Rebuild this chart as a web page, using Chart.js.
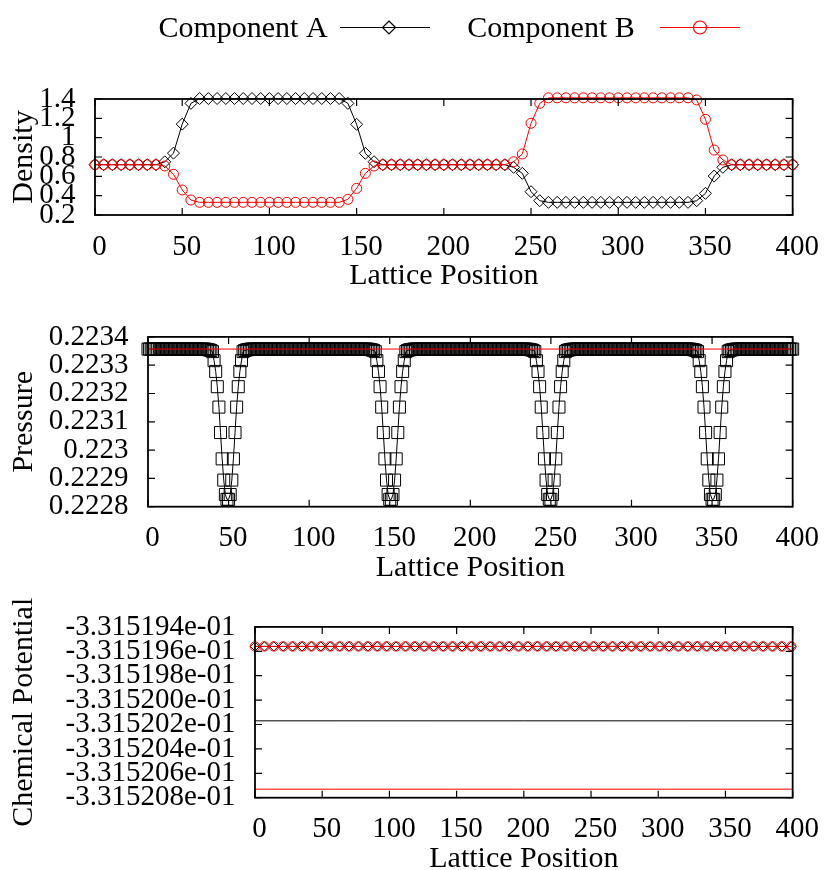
<!DOCTYPE html>
<html>
<head>
<meta charset="utf-8">
<title>Lattice profiles</title>
<script src="https://cdn.jsdelivr.net/npm/chart.js@4.4.1/dist/chart.umd.min.js"></script>
<style>
  html, body { margin: 0; padding: 0; background: #fff; overflow: hidden; }
  #wrap { position: relative; width: 829px; height: 870px; }
  canvas { position: absolute; left: 0; }
  #density { top: 0; }
  #pressure { top: 300px; }
  #potential { top: 590px; }
</style>
</head>
<body>
<div id="wrap">
  <canvas id="density" width="829" height="300"></canvas>
  <canvas id="pressure" width="829" height="290"></canvas>
  <canvas id="potential" width="829" height="300"></canvas>
</div>
<script>
'use strict';

const latticeTicks = [0, 50, 100, 150, 200, 250, 300, 350, 400];

// density, every 5th site
const densityX = Array.from({ length: 81 }, (_, i) => i * 5);
const densityA = [
  0.72, 0.72, 0.72, 0.72, 0.72, 0.72, 0.72, 0.72, 0.75, 0.84,
  1.14, 1.355, 1.405, 1.405, 1.405, 1.405, 1.405, 1.405, 1.405, 1.405,
  1.405, 1.405, 1.405, 1.405, 1.405, 1.405, 1.405, 1.405, 1.405, 1.355,
  1.138, 0.838, 0.751, 0.72, 0.72, 0.72, 0.72, 0.72, 0.72, 0.72,
  0.72, 0.72, 0.72, 0.72, 0.72, 0.72, 0.72, 0.72, 0.693, 0.631,
  0.441, 0.348, 0.331, 0.331, 0.331, 0.331, 0.331, 0.331, 0.331, 0.331,
  0.331, 0.331, 0.331, 0.331, 0.331, 0.331, 0.331, 0.331, 0.331, 0.348,
  0.424, 0.603, 0.693, 0.72, 0.72, 0.72, 0.72, 0.72, 0.72, 0.72,
  0.72
];
const densityB = [
  0.72, 0.72, 0.72, 0.72, 0.72, 0.72, 0.72, 0.72, 0.707, 0.621,
  0.459, 0.355, 0.331, 0.331, 0.331, 0.331, 0.331, 0.331, 0.331, 0.331,
  0.331, 0.331, 0.331, 0.331, 0.331, 0.331, 0.331, 0.331, 0.331, 0.362,
  0.476, 0.631, 0.707, 0.72, 0.72, 0.72, 0.72, 0.72, 0.72, 0.72,
  0.72, 0.72, 0.72, 0.72, 0.72, 0.72, 0.72, 0.72, 0.751, 0.831,
  1.149, 1.355, 1.412, 1.412, 1.412, 1.412, 1.412, 1.412, 1.412, 1.412,
  1.412, 1.412, 1.412, 1.412, 1.412, 1.412, 1.412, 1.412, 1.412, 1.39,
  1.19, 0.872, 0.769, 0.72, 0.72, 0.72, 0.72, 0.72, 0.72, 0.72,
  0.72
];
const densityTicks = [0.2, 0.4, 0.6, 0.8, 1, 1.2, 1.4];

// pressure at every site
const pressureX = Array.from({ length: 401 }, (_, i) => i);
const pressure = [
  0.223357, 0.223357, 0.223357, 0.223357, 0.223357, 0.223357, 0.223357, 0.223357, 0.223357, 0.223357,
  0.223357, 0.223357, 0.223357, 0.223357, 0.223357, 0.223357, 0.223357, 0.223357, 0.223357, 0.223357,
  0.223357, 0.223357, 0.223357, 0.223357, 0.223357, 0.223357, 0.223357, 0.223357, 0.223357, 0.223357,
  0.223357, 0.223357, 0.223357, 0.223357, 0.223357, 0.223357, 0.223356, 0.223355, 0.223354, 0.223352,
  0.223348, 0.223316, 0.223278, 0.223224, 0.223152, 0.223062, 0.222969, 0.222894, 0.222843, 0.222826,
  0.222826, 0.222843, 0.222894, 0.222969, 0.223062, 0.223152, 0.223224, 0.223278, 0.223316, 0.223348,
  0.223352, 0.223354, 0.223355, 0.223356, 0.223357, 0.223357, 0.223357, 0.223357, 0.223357, 0.223357,
  0.223357, 0.223357, 0.223357, 0.223357, 0.223357, 0.223357, 0.223357, 0.223357, 0.223357, 0.223357,
  0.223357, 0.223357, 0.223357, 0.223357, 0.223357, 0.223357, 0.223357, 0.223357, 0.223357, 0.223357,
  0.223357, 0.223357, 0.223357, 0.223357, 0.223357, 0.223357, 0.223357, 0.223357, 0.223357, 0.223357,
  0.223357, 0.223357, 0.223357, 0.223357, 0.223357, 0.223357, 0.223357, 0.223357, 0.223357, 0.223357,
  0.223357, 0.223357, 0.223357, 0.223357, 0.223357, 0.223357, 0.223357, 0.223357, 0.223357, 0.223357,
  0.223357, 0.223357, 0.223357, 0.223357, 0.223357, 0.223357, 0.223357, 0.223357, 0.223357, 0.223357,
  0.223357, 0.223357, 0.223357, 0.223357, 0.223357, 0.223357, 0.223357, 0.223356, 0.223355, 0.223354,
  0.223352, 0.223348, 0.223316, 0.223278, 0.223224, 0.223152, 0.223062, 0.222969, 0.222894, 0.222843,
  0.222826, 0.222826, 0.222843, 0.222894, 0.222969, 0.223062, 0.223152, 0.223224, 0.223278, 0.223316,
  0.223348, 0.223352, 0.223354, 0.223355, 0.223356, 0.223357, 0.223357, 0.223357, 0.223357, 0.223357,
  0.223357, 0.223357, 0.223357, 0.223357, 0.223357, 0.223357, 0.223357, 0.223357, 0.223357, 0.223357,
  0.223357, 0.223357, 0.223357, 0.223357, 0.223357, 0.223357, 0.223357, 0.223357, 0.223357, 0.223357,
  0.223357, 0.223357, 0.223357, 0.223357, 0.223357, 0.223357, 0.223357, 0.223357, 0.223357, 0.223357,
  0.223357, 0.223357, 0.223357, 0.223357, 0.223357, 0.223357, 0.223357, 0.223357, 0.223357, 0.223357,
  0.223357, 0.223357, 0.223357, 0.223357, 0.223357, 0.223357, 0.223357, 0.223357, 0.223357, 0.223357,
  0.223357, 0.223357, 0.223357, 0.223357, 0.223357, 0.223357, 0.223357, 0.223357, 0.223357, 0.223357,
  0.223357, 0.223357, 0.223357, 0.223357, 0.223357, 0.223357, 0.223356, 0.223355, 0.223354, 0.223352,
  0.223348, 0.223316, 0.223278, 0.223224, 0.223152, 0.223062, 0.222969, 0.222894, 0.222843, 0.222826,
  0.222826, 0.222843, 0.222894, 0.222969, 0.223062, 0.223152, 0.223224, 0.223278, 0.223316, 0.223348,
  0.223352, 0.223354, 0.223355, 0.223356, 0.223357, 0.223357, 0.223357, 0.223357, 0.223357, 0.223357,
  0.223357, 0.223357, 0.223357, 0.223357, 0.223357, 0.223357, 0.223357, 0.223357, 0.223357, 0.223357,
  0.223357, 0.223357, 0.223357, 0.223357, 0.223357, 0.223357, 0.223357, 0.223357, 0.223357, 0.223357,
  0.223357, 0.223357, 0.223357, 0.223357, 0.223357, 0.223357, 0.223357, 0.223357, 0.223357, 0.223357,
  0.223357, 0.223357, 0.223357, 0.223357, 0.223357, 0.223357, 0.223357, 0.223357, 0.223357, 0.223357,
  0.223357, 0.223357, 0.223357, 0.223357, 0.223357, 0.223357, 0.223357, 0.223357, 0.223357, 0.223357,
  0.223357, 0.223357, 0.223357, 0.223357, 0.223357, 0.223357, 0.223357, 0.223357, 0.223357, 0.223357,
  0.223357, 0.223357, 0.223357, 0.223357, 0.223357, 0.223357, 0.223357, 0.223356, 0.223355, 0.223354,
  0.223352, 0.223348, 0.223316, 0.223278, 0.223224, 0.223152, 0.223062, 0.222969, 0.222894, 0.222843,
  0.222826, 0.222826, 0.222843, 0.222894, 0.222969, 0.223062, 0.223152, 0.223224, 0.223278, 0.223316,
  0.223348, 0.223352, 0.223354, 0.223355, 0.223356, 0.223357, 0.223357, 0.223357, 0.223357, 0.223357,
  0.223357, 0.223357, 0.223357, 0.223357, 0.223357, 0.223357, 0.223357, 0.223357, 0.223357, 0.223357,
  0.223357, 0.223357, 0.223357, 0.223357, 0.223357, 0.223357, 0.223357, 0.223357, 0.223357, 0.223357,
  0.223357, 0.223357, 0.223357, 0.223357, 0.223357, 0.223357, 0.223357, 0.223357, 0.223357, 0.223357,
  0.223357
];
const pressureBulk = 0.223357;
const pressureTicks = [0.2228, 0.2229, 0.223, 0.2231, 0.2232, 0.2233, 0.2234];

// chemical potential, every 7th site
const potentialX = Array.from({ length: 58 }, (_, i) => i * 7);
const potentialA = [
  -3.3151956e-1, -3.3151956e-1, -3.3151956e-1, -3.3151956e-1, -3.3151956e-1, -3.3151956e-1, -3.3151956e-1, -3.3151956e-1, -3.3151956e-1, -3.3151956e-1,
  -3.3151956e-1, -3.3151956e-1, -3.3151956e-1, -3.3151956e-1, -3.3151956e-1, -3.3151956e-1, -3.3151956e-1, -3.3151956e-1, -3.3151956e-1, -3.3151956e-1,
  -3.3151956e-1, -3.3151956e-1, -3.3151956e-1, -3.3151956e-1, -3.3151956e-1, -3.3151956e-1, -3.3151956e-1, -3.3151956e-1, -3.3151956e-1, -3.3151956e-1,
  -3.3151956e-1, -3.3151956e-1, -3.3151956e-1, -3.3151956e-1, -3.3151956e-1, -3.3151956e-1, -3.3151956e-1, -3.3151956e-1, -3.3151956e-1, -3.3151956e-1,
  -3.3151956e-1, -3.3151956e-1, -3.3151956e-1, -3.3151956e-1, -3.3151956e-1, -3.3151956e-1, -3.3151956e-1, -3.3151956e-1, -3.3151956e-1, -3.3151956e-1,
  -3.3151956e-1, -3.3151956e-1, -3.3151956e-1, -3.3151956e-1, -3.3151956e-1, -3.3151956e-1, -3.3151956e-1, -3.3151956e-1
];
const potentialB = [
  -3.3151956e-1, -3.3151956e-1, -3.3151956e-1, -3.3151956e-1, -3.3151956e-1, -3.3151956e-1, -3.3151956e-1, -3.3151956e-1, -3.3151956e-1, -3.3151956e-1,
  -3.3151956e-1, -3.3151956e-1, -3.3151956e-1, -3.3151956e-1, -3.3151956e-1, -3.3151956e-1, -3.3151956e-1, -3.3151956e-1, -3.3151956e-1, -3.3151956e-1,
  -3.3151956e-1, -3.3151956e-1, -3.3151956e-1, -3.3151956e-1, -3.3151956e-1, -3.3151956e-1, -3.3151956e-1, -3.3151956e-1, -3.3151956e-1, -3.3151956e-1,
  -3.3151956e-1, -3.3151956e-1, -3.3151956e-1, -3.3151956e-1, -3.3151956e-1, -3.3151956e-1, -3.3151956e-1, -3.3151956e-1, -3.3151956e-1, -3.3151956e-1,
  -3.3151956e-1, -3.3151956e-1, -3.3151956e-1, -3.3151956e-1, -3.3151956e-1, -3.3151956e-1, -3.3151956e-1, -3.3151956e-1, -3.3151956e-1, -3.3151956e-1,
  -3.3151956e-1, -3.3151956e-1, -3.3151956e-1, -3.3151956e-1, -3.3151956e-1, -3.3151956e-1, -3.3151956e-1, -3.3151956e-1
];
const potentialBulkA = -3.3152017e-1;
const potentialBulkB = -3.3152073e-1;
const potentialTicks = [
  -3.315208e-1, -3.315206e-1, -3.315204e-1, -3.315202e-1,
  -3.315200e-1, -3.315198e-1, -3.315196e-1, -3.315194e-1
];

const RED = '#ff0000';
const BLACK = '#000000';
const SERIF = '"Liberation Serif", "Times New Roman", serif';

Chart.defaults.font.family = SERIF;
Chart.defaults.font.size = 29;
Chart.defaults.color = BLACK;

const points = (xs, ys) => xs.map((x, i) => ({ x: x, y: ys[i] }));
const flat = v => [{ x: 0, y: v }, { x: 400, y: v }];

// gnuplot style border with inward ticks on all four sides
const frame = {
  id: 'frame',
  afterDatasetsDraw(chart) {
    const { ctx, chartArea: a, scales: { x, y } } = chart;
    const len = 7;
    ctx.save();
    ctx.strokeStyle = BLACK;
    ctx.lineWidth = 1.2;
    ctx.beginPath();
    x.ticks.forEach(t => {
      const px = x.getPixelForValue(t.value);
      ctx.moveTo(px, a.bottom); ctx.lineTo(px, a.bottom - len);
      ctx.moveTo(px, a.top); ctx.lineTo(px, a.top + len);
    });
    y.ticks.forEach(t => {
      const py = y.getPixelForValue(t.value);
      ctx.moveTo(a.left, py); ctx.lineTo(a.left + len, py);
      ctx.moveTo(a.right, py); ctx.lineTo(a.right - len, py);
    });
    ctx.stroke();
    ctx.lineWidth = 1.8;
    ctx.strokeRect(a.left, a.top, a.right - a.left, a.bottom - a.top);
    ctx.restore();
  }
};

function drawMark(ctx, style, x, y, r) {
  ctx.beginPath();
  if (style === 'circle') {
    ctx.arc(x, y, r, 0, Math.PI * 2);
  } else {
    ctx.moveTo(x, y - r); ctx.lineTo(x + r, y);
    ctx.lineTo(x, y + r); ctx.lineTo(x - r, y);
    ctx.closePath();
  }
  ctx.stroke();
}

// key across the top: text first, then line sample with its marker
const keyItems = [
  { dataset: 1, textX: 243, x0: 340, x1: 430, mark: 389 },
  { dataset: 0, textX: 551, x0: 660, x1: 740, mark: 700 }
];
const key = {
  id: 'key',
  afterDraw(chart) {
    const ctx = chart.ctx;
    ctx.save();
    ctx.font = '30px ' + SERIF;
    ctx.textAlign = 'center';
    ctx.textBaseline = 'middle';
    keyItems.forEach(k => {
      const ds = chart.data.datasets[k.dataset];
      ctx.fillStyle = BLACK;
      ctx.fillText(ds.label, k.textX, 29);
      ctx.strokeStyle = ds.borderColor;
      ctx.lineWidth = 1.2;
      ctx.beginPath();
      ctx.moveTo(k.x0, 27.5);
      ctx.lineTo(k.x1, 27.5);
      ctx.stroke();
      drawMark(ctx, ds.pointStyle, k.mark, 27.5, 6.5);
    });
    ctx.restore();
  }
};

function makePanel(id, cfg) {
  const canvas = document.getElementById(id);
  const xHeight = canvas.height - cfg.bottom;
  return new Chart(canvas, {
    type: 'line',
    data: { datasets: cfg.datasets },
    plugins: [frame].concat(cfg.plugins || []),
    options: {
      responsive: false,
      animation: false,
      devicePixelRatio: 1,
      events: [],
      layout: { padding: { top: cfg.top, right: 30, bottom: 0, left: 0 } },
      plugins: { legend: { display: false }, tooltip: { enabled: false } },
      elements: {
        line: { borderWidth: 1, tension: 0 },
        point: { borderWidth: 1, backgroundColor: 'rgba(0,0,0,0)', hoverRadius: 0 }
      },
      scales: {
        x: {
          type: 'linear',
          min: 0,
          max: 400,
          afterBuildTicks: s => { s.ticks = latticeTicks.map(v => ({ value: v })); },
          afterFit: s => { s.height = xHeight; },
          grid: { display: false, drawTicks: false },
          border: { display: false },
          ticks: { autoSkip: false, maxRotation: 0, padding: 14.6, labelOffset: 4.5, callback: v => String(v) },
          title: {
            display: true, text: 'Lattice Position', font: { size: 30 },
            padding: { top: 0, bottom: xHeight - 79.5 }
          }
        },
        y: {
          type: 'linear',
          min: cfg.min,
          max: cfg.max,
          afterBuildTicks: s => { s.ticks = cfg.ticks.map(v => ({ value: v })); },
          afterFit: s => { s.width = cfg.left; },
          grid: { display: false, drawTicks: false },
          border: { display: false },
          ticks: { autoSkip: false, padding: 19.5, callback: cfg.format },
          title: { display: true, text: cfg.title, font: { size: 30 }, padding: { top: 6, bottom: 0 } }
        }
      }
    }
  });
}

makePanel('density', {
  top: 99, bottom: 215, left: 95,
  min: 0.2, max: 1.4, ticks: densityTicks,
  format: v => String(v),
  title: 'Density',
  plugins: [key],
  datasets: [
    {
      label: 'Component B', data: points(densityX, densityB),
      borderColor: RED, pointBorderColor: RED, pointStyle: 'circle', pointRadius: 5, clip: false
    },
    {
      label: 'Component A', data: points(densityX, densityA),
      borderColor: BLACK, pointBorderColor: BLACK, pointStyle: 'rectRot', pointRadius: 6, clip: false
    }
  ]
});

makePanel('pressure', {
  top: 30.7, bottom: 206.7, left: 148,
  min: 0.2228, max: 0.2234, ticks: pressureTicks,
  format: v => String(v),
  title: 'Pressure',
  datasets: [
    { data: flat(pressureBulk), borderColor: RED, pointRadius: 0, clip: false },
    {
      data: points(pressureX, pressure),
      borderColor: BLACK, pointBorderColor: BLACK, pointStyle: 'rect', pointRadius: 8.5, clip: false
    }
  ]
});

makePanel('potential', {
  top: 32.3, bottom: 207.7, left: 255,
  min: -3.315208e-1, max: -3.315194e-1, ticks: potentialTicks,
  format: v => v.toExponential(6).replace(/e([+-])(\d)$/, (m, s, d) => 'e' + s + '0' + d),
  title: 'Chemical Potential',
  datasets: [
    {
      label: 'Component B', data: points(potentialX, potentialB),
      borderColor: RED, pointBorderColor: RED, pointStyle: 'circle', pointRadius: 4.7, clip: false
    },
    {
      label: 'Component A', data: points(potentialX, potentialA),
      borderColor: BLACK, pointBorderColor: BLACK, pointStyle: 'rectRot', pointRadius: 4.6, clip: false
    },
    { data: flat(potentialBulkB), borderColor: RED, pointRadius: 0 },
    { data: flat(potentialBulkA), borderColor: BLACK, pointRadius: 0 }
  ]
});
</script>
</body>
</html>
